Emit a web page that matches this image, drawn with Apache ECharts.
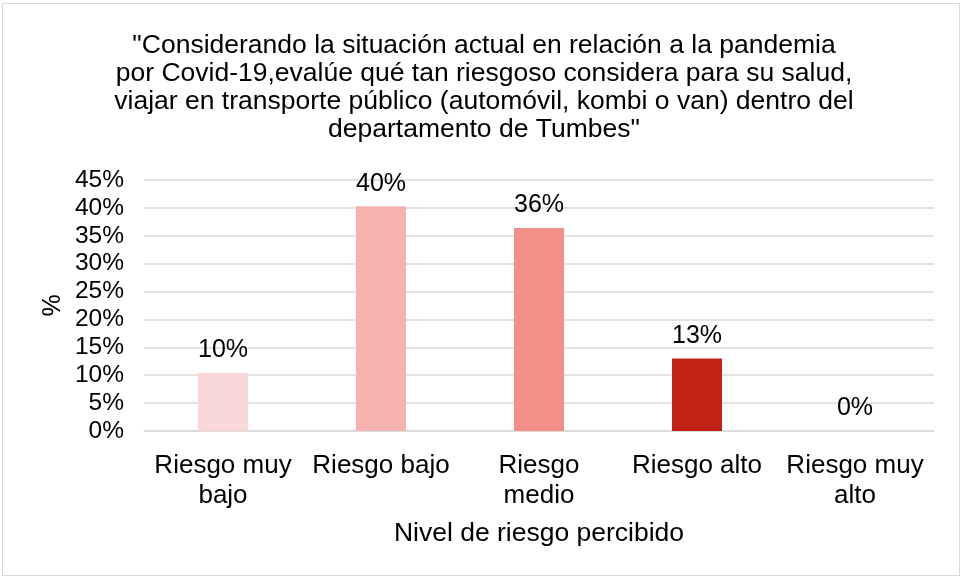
<!DOCTYPE html>
<html>
<head>
<meta charset="utf-8">
<script src="https://cdn.jsdelivr.net/npm/echarts@6/dist/echarts.min.js"></script>
<style>
  html, body { margin: 0; padding: 0; background: #fff; }
  #frame {
    position: absolute; left: 2px; top: 3px;
    width: 958px; height: 573px;
    border: 1px solid #d9d9d9; box-sizing: border-box;
  }
  #chart { position: absolute; left: 0; top: 0; width: 963px; height: 579px; }
</style>
</head>
<body>
<div id="frame"></div>
<div id="chart"></div>
<script>
// categorias (eje X)
const categories = ['Riesgo muy\nbajo', 'Riesgo bajo', 'Riesgo\nmedio', 'Riesgo alto', 'Riesgo muy\nalto'];
// porcentajes
const values = [10.4, 40.3, 36.4, 13.0, 0];
const barColors = ['#F9D7D6', '#F6B3B0', '#F28F89', '#C32216', '#8E1A11'];
const yTicks = [0, 5, 10, 15, 20, 25, 30, 35, 40, 45];

const titleText = '"Considerando la situación actual en relación a la pandemia\n' +
  'por Covid-19,evalúe qué tan riesgoso considera para su salud,\n' +
  'viajar en transporte público (automóvil, kombi o van) dentro del\n' +
  'departamento de Tumbes"';

const font = 'Liberation Sans, Arial, sans-serif';

const chart = echarts.init(document.getElementById('chart'));
chart.setOption({
  animation: false,
  textStyle: { fontFamily: font },
  title: {
    text: titleText,
    left: 479,
    top: 27,
    textAlign: 'center',
    textStyle: { fontFamily: font, fontSize: 26.5, fontWeight: 'normal', color: '#000', lineHeight: 28 }
  },
  grid: { left: 144, right: 29, top: 180, bottom: 148 },
  xAxis: {
    type: 'category',
    data: categories,
    name: 'Nivel de riesgo percibido',
    nameLocation: 'middle',
    nameGap: 89,
    nameTextStyle: { fontSize: 26.5, color: '#000', fontFamily: font },
    axisLine: { lineStyle: { color: '#d9d9d9', width: 1.5 } },
    axisTick: { show: false },
    axisLabel: { fontSize: 26, color: '#000', lineHeight: 30, margin: 20, interval: 0, fontFamily: font }
  },
  yAxis: {
    type: 'value',
    min: yTicks[0],
    max: yTicks[yTicks.length - 1],
    interval: 5,
    name: '%',
    nameLocation: 'middle',
    nameGap: 91,
    nameRotate: 90,
    nameMoveOverlap: false,
    nameTextStyle: { fontSize: 25, color: '#000', fontFamily: font, verticalAlign: 'middle' },
    axisLine: { show: false },
    axisTick: { show: false },
    axisLabel: { fontSize: 24.5, color: '#000', margin: 20, formatter: v => v + '%', fontFamily: font },
    splitLine: { lineStyle: { color: '#d9d9d9', width: 1.5 } }
  },
  series: [{
    type: 'bar',
    barWidth: 50,
    data: values.map((v, i) => ({ value: v, itemStyle: { color: barColors[i] } })),
    label: {
      show: true,
      position: 'top',
      distance: 10,
      fontSize: 25,
      color: '#000',
      fontFamily: font,
      formatter: p => Math.round(p.value) + '%'
    }
  }]
});
</script>
</body>
</html>
